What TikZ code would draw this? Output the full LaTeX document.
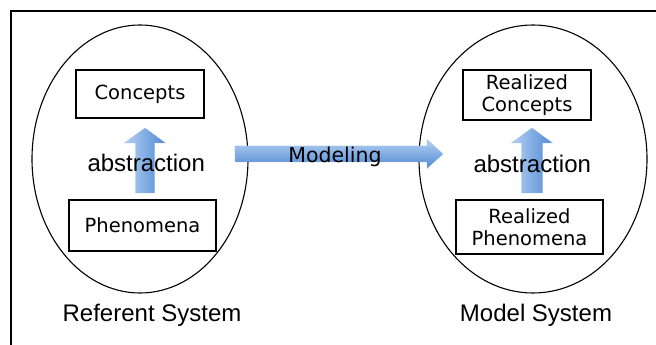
\documentclass[tikz,border=0pt]{standalone}
\usepackage{fontspec}
\setmainfont{Liberation Sans}
\newfontfamily\boxfont{DejaVu Sans}
\usetikzlibrary{calc,shapes.geometric}

\definecolor{arrlight}{HTML}{B4D1F3}
\definecolor{arrdark}{HTML}{5089D3}

\begin{document}
\begin{tikzpicture}[x=1pt,y=1pt,inner sep=0pt,outer sep=0pt,
    every node/.style={font=\fontsize{24}{28}\selectfont},
    sysellipse/.style={draw, ellipse, line width=1.1pt},
    conceptbox/.style={draw, line width=1.3pt, align=center,
        font=\boxfont\fontsize{19.5}{21.5}\selectfont},
    upfill/.style={left color=arrlight, right color=arrdark, draw=arrdark!60, line width=0.3pt},
    rightfill/.style={top color=arrlight, bottom color=arrdark, draw=arrdark!60, line width=0.3pt}]
    \useasboundingbox (0,0) rectangle (656,345);
    % frame
    \draw[line width=2pt] (11,0) -- (11,334) -- (656,334);

    % referent system
    \node[sysellipse, minimum width=216, minimum height=268] (ref) at (140, 186) {};
    \node[conceptbox, minimum width=128, minimum height=48] (conc_l) at (140, 251) {Concepts};
    \node[conceptbox, minimum width=147, minimum height=51] (phen_l) at (142.5, 119.5) {Phenomena};
    \node (ref_cap) at ($(ref.south) + (12pt, -22pt)$) {Referent System};

    % model system
    \node[sysellipse, minimum width=228, minimum height=268] (mod) at (533, 186) {};
    \node[conceptbox, minimum width=128, minimum height=50] (conc_r) at (527, 250) {Realized\\Concepts};
    \node[conceptbox, minimum width=147, minimum height=54] (phen_r) at (529.5, 118) {Realized\\Phenomena};
    \node (mod_cap) at ($(mod.south) + (3pt, -22pt)$) {Model System};

    % abstraction arrows
    \coordinate (abs_l_base) at ($(phen_l.north) + (2.5, 7)$);
    \coordinate (abs_l_tip) at ($(conc_l.south) + (5, -10)$);
    \shade[upfill] ($(abs_l_base) + (-9.5, 0)$) -- ($(abs_l_tip) + (-9.5, -15)$)
        -- ($(abs_l_tip) + (-20.5, -15)$) -- (abs_l_tip) -- ($(abs_l_tip) + (20.5, -15)$)
        -- ($(abs_l_tip) + (9.5, -15)$) -- ($(abs_l_base) + (9.5, 0)$) -- cycle;
    \node (abs_l) at ($(phen_l.north)!0.5!(conc_l.south) + (5, -4)$) {abstraction};

    \coordinate (abs_r_base) at ($(phen_r.north) + (2.5, 7)$);
    \coordinate (abs_r_tip) at ($(conc_r.south) + (5, -8)$);
    \shade[upfill] ($(abs_r_base) + (-10.5, 0)$) -- ($(abs_r_tip) + (-10.5, -15)$)
        -- ($(abs_r_tip) + (-20.5, -15)$) -- (abs_r_tip) -- ($(abs_r_tip) + (20.5, -15)$)
        -- ($(abs_r_tip) + (10.5, -15)$) -- ($(abs_r_base) + (10.5, 0)$) -- cycle;
    \node (abs_r) at ($(phen_r.north)!0.5!(conc_r.south) + (4, -4)$) {abstraction};

    % modeling
    \coordinate (mdl_base) at ($(ref.east) + (-13, 5)$);
    \coordinate (mdl_tip) at ($(mod.west) + (24, 5)$);
    \shade[rightfill] ($(mdl_base) + (0, 8)$) -- ($(mdl_tip) + (-16, 8)$)
        -- ($(mdl_tip) + (-16, 14.5)$) -- (mdl_tip) -- ($(mdl_tip) + (-16, -14.5)$)
        -- ($(mdl_tip) + (-16, -8)$) -- ($(mdl_base) + (0, -8)$) -- cycle;
    \node[font=\boxfont\fontsize{20.5}{22}\selectfont] (mdl) at ($(mdl_base)!0.5!(mdl_tip) + (-4, -3)$) {Modeling};
\end{tikzpicture}
\end{document}
